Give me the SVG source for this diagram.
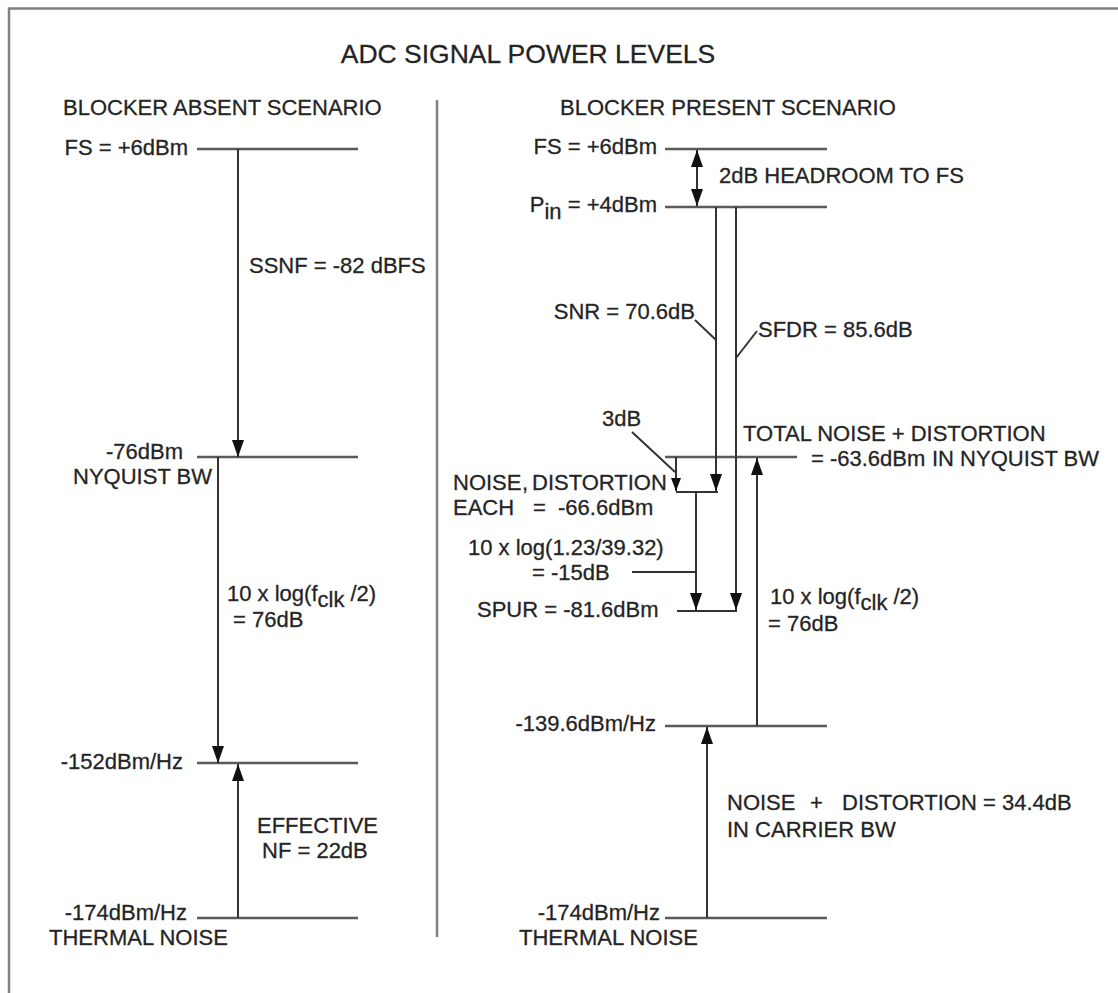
<svg xmlns="http://www.w3.org/2000/svg" width="1118" height="993" viewBox="0 0 1118 993">
<style>
text{font-family:"Liberation Sans",Arial,sans-serif;fill:#222;font-size:22px;stroke:#333;stroke-width:0.3}
.e{text-anchor:end}
.lvl{stroke:#5a5a5a;stroke-width:2.5;fill:none}
.c{stroke:#333;stroke-width:2;fill:none}
.ar{marker-end:url(#ah)}
.as{marker-end:url(#ahs)}
.frame{stroke:#808080;stroke-width:2.5;fill:none}
</style>
<defs>
<marker id="ah" markerUnits="userSpaceOnUse" markerWidth="17" markerHeight="12" refX="17" refY="6" orient="auto-start-reverse"><path d="M0,0 L17,6 L0,12 z" fill="#111"/></marker>
<marker id="ahs" markerUnits="userSpaceOnUse" markerWidth="13" markerHeight="10" refX="13" refY="5" orient="auto-start-reverse"><path d="M0,0 L13,5 L0,10 z" fill="#111"/></marker>
</defs>
<rect width="1118" height="993" fill="#fff"/>
<path class="frame" d="M9,993 V8.5 H1118"/>
<g id="title">
<text x="528" y="63" text-anchor="middle" style="font-size:26.5px">ADC SIGNAL POWER LEVELS</text>
<text x="63" y="115">BLOCKER ABSENT SCENARIO</text>
<text x="560" y="115">BLOCKER PRESENT SCENARIO</text>
<line x1="437" y1="100" x2="437" y2="937" stroke="#808080" stroke-width="2.5"/>
</g>
<g id="left-fs"><line class="lvl" x1="197" y1="149" x2="358" y2="149"/><text class="e" x="188" y="155">FS = +6dBm</text></g>
<g id="left-nyq"><line class="lvl" x1="197" y1="457" x2="358" y2="457"/><text class="e" x="183" y="459">-76dBm</text><text class="e" x="212" y="484">NYQUIST BW</text></g>
<g id="left-152"><line class="lvl" x1="197" y1="763" x2="358" y2="763"/><text class="e" x="183" y="769">-152dBm/Hz</text></g>
<g id="left-thermal"><line class="lvl" x1="197" y1="918" x2="358" y2="918"/><text class="e" x="187" y="920">-174dBm/Hz</text><text x="49" y="945">THERMAL NOISE</text></g>
<g id="left-labels">
<text x="249" y="273">SSNF = -82 dBFS</text>
<text x="227" y="601">10 x log(f<tspan dy="6">clk</tspan><tspan dy="-6"> /2)</tspan></text>
<text x="233" y="627">= 76dB</text>
<text x="257" y="833">EFFECTIVE</text>
<text x="262" y="858">NF = 22dB</text>
</g>
<g id="right-fs"><line class="lvl" x1="665" y1="149" x2="827" y2="149"/><text class="e" x="657" y="154">FS = +6dBm</text></g>
<g id="right-pin"><line class="lvl" x1="665" y1="207" x2="827" y2="207"/><text class="e" x="657" y="212">P<tspan dy="7">in</tspan><tspan dy="-7"> = +4dBm</tspan></text></g>
<g id="right-total"><line class="lvl" x1="665" y1="457" x2="797" y2="457"/><text x="743" y="441">TOTAL NOISE + DISTORTION</text><text x="811" y="466">= -63.6dBm<tspan x="932">IN NYQUIST BW</tspan></text></g>
<g id="right-each"><line class="c" x1="676" y1="492" x2="718" y2="492"/><text x="453" y="490">NOISE<tspan x="522">,</tspan><tspan x="532">DISTORTION</tspan></text><text x="453" y="515">EACH<tspan x="533">=</tspan><tspan x="558">-66.6dBm</tspan></text></g>
<g id="right-spur"><line class="c" x1="677" y1="611" x2="737" y2="611"/><text x="477" y="617">SPUR = -81.6dBm</text></g>
<g id="right-139"><line class="lvl" x1="665" y1="726" x2="827" y2="726"/><text class="e" x="656" y="731">-139.6dBm/Hz</text></g>
<g id="right-thermal"><line class="lvl" x1="665" y1="918" x2="827" y2="918"/><text class="e" x="660" y="920">-174dBm/Hz</text><text x="519" y="945">THERMAL NOISE</text></g>
<g id="right-labels">
<text x="719" y="183">2dB HEADROOM TO FS</text>
<text class="e" x="695" y="319">SNR = 70.6dB</text>
<text x="758" y="337">SFDR = 85.6dB</text>
<text x="602" y="426">3dB</text>
<text x="468" y="555">10 x log(1.23/39.32)</text>
<text x="532" y="580">= -15dB</text>
<text x="770" y="604">10 x log(f<tspan dy="6">clk</tspan><tspan dy="-6"> /2)</tspan></text>
<text x="768" y="631">= 76dB</text>
<text x="727" y="810">NOISE<tspan x="810">+</tspan><tspan x="842">DISTORTION = 34.4dB</tspan></text>
<text x="727" y="837">IN CARRIER BW</text>
</g>
<g id="connectors">
<line class="c ar" x1="238" y1="149" x2="238" y2="457"/>
<line class="c ar" x1="218" y1="457" x2="218" y2="763"/>
<line class="c ar" x1="238" y1="918" x2="238" y2="764"/>
<line class="c" x1="697" y1="150" x2="697" y2="206" style="marker-start:url(#ah);marker-end:url(#ah)"/>
<line class="c ar" x1="716" y1="207" x2="716" y2="491"/>
<line class="c ar" x1="736" y1="207" x2="736" y2="610"/>
<line class="c as" x1="676" y1="457" x2="676" y2="491"/>
<line class="c ar" x1="696" y1="492" x2="696" y2="610"/>
<line class="c ar" x1="757" y1="726" x2="757" y2="458"/>
<line class="c ar" x1="707" y1="918" x2="707" y2="727"/>
<line class="c" x1="695" y1="320" x2="716" y2="340"/>
<line class="c" x1="736" y1="358" x2="757" y2="331"/>
<line class="c" x1="632" y1="432" x2="675" y2="472"/>
<line class="c" x1="632" y1="572" x2="696" y2="572"/>
</g>
</svg>
